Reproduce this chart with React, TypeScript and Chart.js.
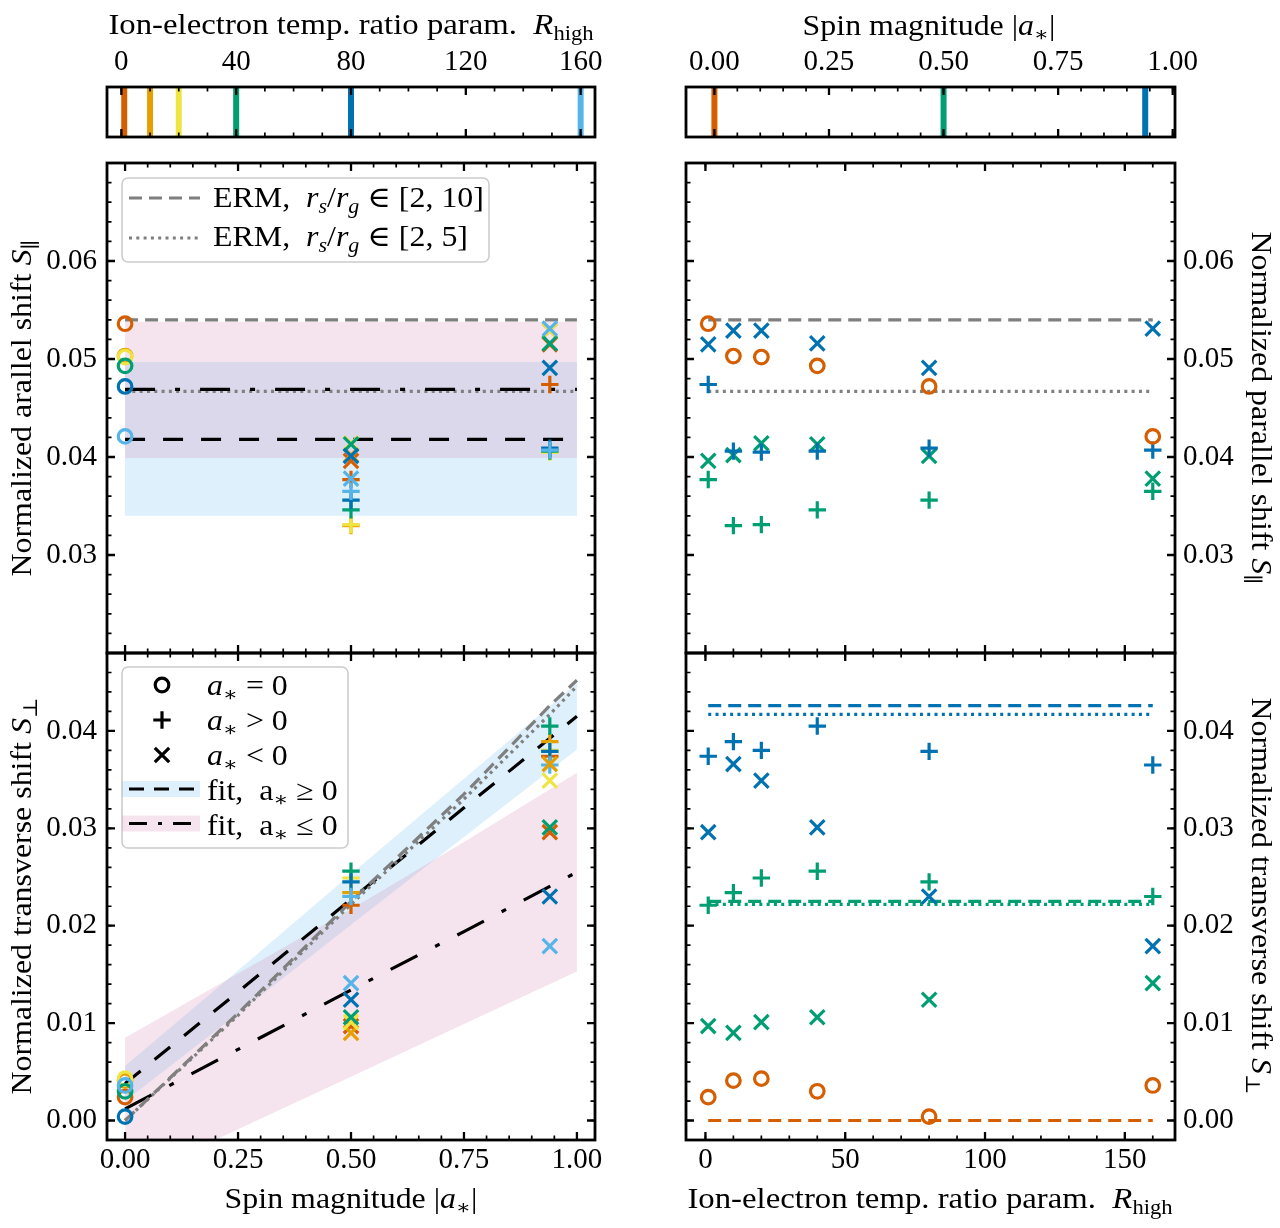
import React, { useEffect, useRef } from "react";
import { Chart, registerables } from "chart.js";
Chart.register(...registerables);

// ---------------- data ----------------
const RHIGH = [1, 10, 20, 40, 80, 160];
const RHIGH_COLORS = ["#D55E00", "#E69F00", "#F0E442", "#009E73", "#0072B2", "#56B4E9"];
const SPINS = [0, 0.5, 0.94];
const SPIN_COLORS = ["#D55E00", "#009E73", "#0072B2"];

// normalized parallel shift S_par, per R_high
const SPAR_A0 = [0.0536, 0.0503, 0.0502, 0.0493, 0.0472, 0.0421];
const SPAR_P05 = [0.0377, 0.033, 0.0331, 0.0346, 0.0356, 0.0365];
const SPAR_M05 = [0.0396, 0.0402, 0.0414, 0.0413, 0.0401, 0.0378];
const SPAR_P094 = [0.0474, 0.0406, 0.0405, 0.0406, 0.0409, 0.0407];
const SPAR_M094 = [0.0515, 0.0529, 0.0529, 0.0516, 0.0491, 0.0531];

// normalized transverse shift S_perp, per R_high
const SPERP_A0 = [0.0024, 0.0041, 0.0043, 0.003, 0.0004, 0.0036];
const SPERP_P05 = [0.0221, 0.0234, 0.0249, 0.0256, 0.0245, 0.023];
const SPERP_M05 = [0.0097, 0.009, 0.0101, 0.0106, 0.0124, 0.0141];
const SPERP_P094 = [0.0374, 0.0389, 0.038, 0.0405, 0.0379, 0.0365];
const SPERP_M094 = [0.0296, 0.0366, 0.0349, 0.0301, 0.023, 0.0179];

// ERM reference values
const ERM_SPAR_10 = 0.054;
const ERM_SPAR_5 = 0.0467;
const ERM_SPIN_GRID = [0, 0.25, 0.5, 0.75, 0.94, 1];
const ERM_SPERP_10 = [0, 0.011, 0.0225, 0.0335, 0.0426, 0.0452];
const ERM_SPERP_5 = [0, 0.0108, 0.0222, 0.033, 0.0417, 0.0446];
const ERM_SPERP_10_AT_SPINS = [0, 0.0225, 0.0426];
const ERM_SPERP_5_AT_SPINS = [0, 0.0222, 0.0417];

// fits vs spin
const FIT_SPAN = [0, 1];
const FITP_SPAR = [0.0418, 0.0418];
const FITP_SPAR_LO = [0.034, 0.034];
const FITP_SPAR_HI = [0.0497, 0.0497];
const FITN_SPAR = [0.0469, 0.0469];
const FITN_SPAR_LO = [0.0399, 0.0399];
const FITN_SPAR_HI = [0.0538, 0.0538];

const FIT_SPIN = [0, 0.25, 0.5, 0.75, 1];
const FITP_SPERP = [0.0038, 0.0132, 0.0227, 0.0321, 0.0415];
const FITP_SPERP_LO = [0.002, 0.011, 0.0201, 0.0291, 0.0381];
const FITP_SPERP_HI = [0.0056, 0.0154, 0.0253, 0.0351, 0.0449];
const FITN_SPERP = [0.0012, 0.0073, 0.0134, 0.0194, 0.0255];
const FITN_SPERP_LO = [-0.0063, -0.0009, 0.0045, 0.0099, 0.0153];
const FITN_SPERP_HI = [0.0085, 0.0151, 0.0217, 0.0286, 0.0357];

// ticks
const CB_R_TICKS = [0, 40, 80, 120, 160];
const CB_S_TICKS = [0, 0.25, 0.5, 0.75, 1.0];
const SPIN_TICKS = [0, 0.25, 0.5, 0.75, 1.0];
const RHIGH_TICKS = [0, 50, 100, 150];
const SPAR_TICKS = [0.03, 0.04, 0.05, 0.06];
const SPERP_TICKS = [0, 0.01, 0.02, 0.03, 0.04];

// ---------------- style / layout ----------------
const W = 1280;
const H = 1228;
const FONT = "'Liberation Serif', 'DejaVu Serif', serif";
const FS = 29;
const STRETCH = 1.1;
const GRAY = "#7f7f7f";
const BLUE_BAND = "rgba(86,180,233,0.2)";
const PINK_BAND = "rgba(204,121,167,0.2)";
const DASH_ERM = [13, 7];
const DOT = [3, 4.3];
const DASH_FIT = [20, 18];
const DASHDOT_FIT = [30, 20, 5, 20];
const Y_AXIS_W = 95;
const X_AXIS_H = 58;

type Box = { l: number; t: number; r: number; b: number };
const BOX: Record<string, Box> = {
  cbL: { l: 107, t: 87, r: 595, b: 137 },
  cbR: { l: 686, t: 87, r: 1175, b: 137 },
  tl: { l: 107, t: 163, r: 595, b: 653 },
  bl: { l: 107, t: 653, r: 595, b: 1140 },
  tr: { l: 686, t: 163, r: 1175, b: 653 },
  br: { l: 686, t: 653, r: 1175, b: 1140 },
};

function steps(a: number, b: number, step: number): number[] {
  const out: number[] = [];
  const n = Math.round((b - a) / step);
  for (let i = 0; i <= n; i++) out.push(+(a + i * step).toFixed(6));
  return out;
}

// ---------------- text helpers ----------------
type Seg = { t: string; it?: boolean; sub?: boolean };
function segFont(s: Seg, size: number) {
  return `${s.it ? "italic " : ""}${s.sub ? Math.round(size * 0.7) : size}px ${FONT}`;
}
function richWidth(ctx: CanvasRenderingContext2D, segs: Seg[], size: number) {
  let w = 0;
  for (const s of segs) {
    ctx.font = segFont(s, size);
    w += ctx.measureText(s.t).width;
  }
  return w;
}
function drawRich(
  ctx: CanvasRenderingContext2D,
  segs: Seg[],
  x: number,
  y: number,
  align: "left" | "center" = "left",
  rot = 0,
  stretch = STRETCH,
  size = FS
) {
  ctx.save();
  ctx.translate(x, y);
  if (rot) ctx.rotate(rot);
  ctx.scale(stretch, 1);
  ctx.fillStyle = "#000";
  ctx.textBaseline = "alphabetic";
  ctx.textAlign = "left";
  const w = richWidth(ctx, segs, size);
  let cx = align === "center" ? -w / 2 : 0;
  for (const s of segs) {
    ctx.font = segFont(s, size);
    ctx.fillText(s.t, cx, s.sub ? size * 0.22 : 0);
    cx += ctx.measureText(s.t).width;
  }
  ctx.restore();
}

const T_RHIGH: Seg[] = [{ t: "Ion-electron temp. ratio param.  " }, { t: "R", it: true }, { t: "high", sub: true }];
const T_SPIN: Seg[] = [{ t: "Spin magnitude |" }, { t: "a", it: true }, { t: "∗", sub: true }, { t: "|" }];
const T_SPAR_L: Seg[] = [{ t: "Normalized arallel shift " }, { t: "S", it: true }, { t: "∥", sub: true }];
const T_SPAR_R: Seg[] = [{ t: "Normalized parallel shift " }, { t: "S", it: true }, { t: "∥", sub: true }];
const T_SPERP: Seg[] = [{ t: "Normalized transverse shift " }, { t: "S", it: true }, { t: "⊥", sub: true }];
const L_ERM10: Seg[] = [
  { t: "ERM,  " }, { t: "r", it: true }, { t: "s", it: true, sub: true }, { t: "/" },
  { t: "r", it: true }, { t: "g", it: true, sub: true }, { t: " ∈ [2, 10]" },
];
const L_ERM5: Seg[] = [
  { t: "ERM,  " }, { t: "r", it: true }, { t: "s", it: true, sub: true }, { t: "/" },
  { t: "r", it: true }, { t: "g", it: true, sub: true }, { t: " ∈ [2, 5]" },
];
const L_A0: Seg[] = [{ t: "a", it: true }, { t: "∗", sub: true }, { t: " = 0" }];
const L_AP: Seg[] = [{ t: "a", it: true }, { t: "∗", sub: true }, { t: " > 0" }];
const L_AM: Seg[] = [{ t: "a", it: true }, { t: "∗", sub: true }, { t: " < 0" }];
const L_FITP: Seg[] = [{ t: "fit,  a" }, { t: "∗", sub: true }, { t: " ≥ 0" }];
const L_FITN: Seg[] = [{ t: "fit,  a" }, { t: "∗", sub: true }, { t: " ≤ 0" }];

function legendBox(ctx: CanvasRenderingContext2D, x: number, y: number, w: number, h: number) {
  ctx.save();
  ctx.beginPath();
  (ctx as any).roundRect(x, y, w, h, 6);
  ctx.fillStyle = "rgba(255,255,255,0.8)";
  ctx.fill();
  ctx.strokeStyle = "#cccccc";
  ctx.lineWidth = 1.6;
  ctx.stroke();
  ctx.restore();
}
function hLine(ctx: CanvasRenderingContext2D, x0: number, x1: number, y: number, color: string, dash: number[], lw = 3.2) {
  ctx.save();
  ctx.strokeStyle = color;
  ctx.lineWidth = lw;
  ctx.setLineDash(dash);
  ctx.beginPath();
  ctx.moveTo(x0, y);
  ctx.lineTo(x1, y);
  ctx.stroke();
  ctx.restore();
}
function marker(ctx: CanvasRenderingContext2D, kind: string, x: number, y: number) {
  ctx.save();
  ctx.strokeStyle = "#000";
  ctx.lineWidth = 3.2;
  ctx.beginPath();
  if (kind === "circle") {
    ctx.arc(x, y, 6.8, 0, Math.PI * 2);
  } else if (kind === "cross") {
    ctx.moveTo(x - 8.7, y); ctx.lineTo(x + 8.7, y);
    ctx.moveTo(x, y - 8.7); ctx.lineTo(x, y + 8.7);
  } else {
    ctx.moveTo(x - 7.2, y - 7.2); ctx.lineTo(x + 7.2, y + 7.2);
    ctx.moveTo(x - 7.2, y + 7.2); ctx.lineTo(x + 7.2, y - 7.2);
  }
  ctx.stroke();
  ctx.restore();
}

// ---------------- chart helpers ----------------
type Spec = {
  xMajor: number[];
  xMinor: number[];
  yMajor: number[];
  yMinor: number[];
  deco?: (ctx: CanvasRenderingContext2D) => void;
};

function framePlugin(spec: Spec) {
  return {
    id: "frameDeco",
    afterDraw(chart: any) {
      const ctx = chart.ctx as CanvasRenderingContext2D;
      const { left, right, top, bottom } = chart.chartArea;
      const xs = chart.scales.x;
      const ys = chart.scales.y;
      ctx.save();
      ctx.strokeStyle = "#000";
      ctx.setLineDash([]);
      const tx = (vals: number[], len: number, lw: number) => {
        ctx.lineWidth = lw;
        ctx.beginPath();
        for (const v of vals) {
          const p = xs.getPixelForValue(v);
          if (p < left + 1.5 || p > right - 1.5) continue;
          ctx.moveTo(p, bottom);
          ctx.lineTo(p, bottom - len);
          ctx.moveTo(p, top);
          ctx.lineTo(p, top + len);
        }
        ctx.stroke();
      };
      const ty = (vals: number[], len: number, lw: number) => {
        ctx.lineWidth = lw;
        ctx.beginPath();
        for (const v of vals) {
          const p = ys.getPixelForValue(v);
          if (p < top + 1.5 || p > bottom - 1.5) continue;
          ctx.moveTo(left, p);
          ctx.lineTo(left + len, p);
          ctx.moveTo(right, p);
          ctx.lineTo(right - len, p);
        }
        ctx.stroke();
      };
      tx(spec.xMinor, 4.5, 1.7);
      tx(spec.xMajor, 8, 2.3);
      ty(spec.yMinor, 4.5, 1.7);
      ty(spec.yMajor, 8, 2.3);
      ctx.lineWidth = 2.8;
      ctx.strokeRect(left, top, right - left, bottom - top);
      ctx.restore();
      if (spec.deco) spec.deco(ctx);
    },
  };
}

type Ax = { cfg: any; pos: string; size: number };
function axis(
  min: number,
  max: number,
  ticks: number[],
  position: string,
  labels: boolean,
  fmt: (v: number) => string,
  pad: number
): Ax {
  const horizontal = position === "top" || position === "bottom";
  const size = labels ? (horizontal ? X_AXIS_H : Y_AXIS_W) : 0;
  const cfg = {
    type: "linear",
    min,
    max,
    position,
    display: true,
    grid: { display: false, drawTicks: false },
    border: { display: false },
    title: { display: false },
    ticks: {
      display: labels,
      autoSkip: false,
      maxRotation: 0,
      minRotation: 0,
      padding: pad,
      color: "#000",
      font: { family: FONT, size: FS },
      callback: (v: number) => fmt(v),
    },
    afterBuildTicks: (s: any) => {
      s.ticks = ticks.map((value) => ({ value }));
    },
    afterFit: (s: any) => {
      if (horizontal) s.height = size;
      else s.width = size;
      s.paddingLeft = 0;
      s.paddingRight = 0;
      s.paddingTop = 0;
      s.paddingBottom = 0;
    },
  };
  return { cfg, pos: position, size };
}

const f2 = (v: number) => v.toFixed(2);
const f0 = (v: number) => String(Math.round(v));

function markers(xs: number[], ys: number[], colors: string[], style: string) {
  return {
    type: "scatter",
    data: xs.map((x, i) => ({ x, y: ys[i] })),
    showLine: false,
    pointStyle: style,
    pointRadius: style === "circle" ? 6.8 : style === "cross" ? 8.7 : 10.2,
    pointBorderWidth: 3.2,
    pointBorderColor: colors,
    pointBackgroundColor: "rgba(0,0,0,0)",
    borderColor: colors,
    backgroundColor: "rgba(0,0,0,0)",
  };
}
function line(xs: number[], ys: number[], color: string, width: number, dash: number[]) {
  return {
    type: "line",
    data: xs.map((x, i) => ({ x, y: ys[i] })),
    borderColor: color,
    borderWidth: width,
    borderDash: dash,
    borderCapStyle: "butt",
    pointRadius: 0,
    fill: false,
    tension: 0,
  };
}
function band(xs: number[], lo: number[], hi: number[], color: string) {
  return [
    {
      type: "line",
      data: xs.map((x, i) => ({ x, y: hi[i] })),
      borderWidth: 0,
      borderColor: "rgba(0,0,0,0)",
      pointRadius: 0,
      fill: "+1",
      backgroundColor: color,
      tension: 0,
    },
    {
      type: "line",
      data: xs.map((x, i) => ({ x, y: lo[i] })),
      borderWidth: 0,
      borderColor: "rgba(0,0,0,0)",
      pointRadius: 0,
      fill: false,
      tension: 0,
    },
  ];
}

function makeChart(canvas: HTMLCanvasElement, box: Box, x: Ax, y: Ax, datasets: any[], spec: Spec) {
  const padding = {
    left: box.l - (y.pos === "left" ? y.size : 0),
    right: W - box.r - (y.pos === "right" ? y.size : 0),
    top: box.t - (x.pos === "top" ? x.size : 0),
    bottom: H - box.b - (x.pos === "bottom" ? x.size : 0),
  };
  return new Chart(canvas, {
    type: "scatter",
    data: { datasets },
    options: {
      responsive: false,
      animation: false,
      events: [],
      layout: { autoPadding: false, padding },
      plugins: { legend: { display: false }, tooltip: { enabled: false }, title: { display: false } },
      scales: { x: x.cfg, y: y.cfg },
    } as any,
    plugins: [framePlugin(spec) as any],
  } as any);
}

const at = (v: number) => RHIGH.map(() => v);
const spinColor = (k: number) => RHIGH.map(() => SPIN_COLORS[k]);
const RH_SPAN = [RHIGH[0], RHIGH[RHIGH.length - 1]];

// ---------------- panel builders ----------------
function buildCbL(c: HTMLCanvasElement) {
  const ds = RHIGH.map((r, i) => line([r, r], [0, 1], RHIGH_COLORS[i], 6, []));
  return makeChart(
    c,
    BOX.cbL,
    axis(-5, 165, CB_R_TICKS, "top", true, f0, 7),
    axis(0, 1, [], "left", false, f2, 0),
    ds,
    {
      xMajor: CB_R_TICKS, xMinor: steps(0, 160, 10), yMajor: [], yMinor: [],
      deco: (ctx) => drawRich(ctx, T_RHIGH, 351, 34, "center", 0, 1.13),
    }
  );
}
function buildCbR(c: HTMLCanvasElement) {
  const ds = SPINS.map((s, i) => line([s, s], [0, 1], SPIN_COLORS[i], 6, []));
  return makeChart(
    c,
    BOX.cbR,
    axis(-0.062, 1.005, CB_S_TICKS, "top", true, f2, 7),
    axis(0, 1, [], "left", false, f2, 0),
    ds,
    {
      xMajor: CB_S_TICKS, xMinor: steps(0, 1, 0.05), yMajor: [], yMinor: [],
      deco: (ctx) => drawRich(ctx, T_SPIN, 929, 35, "center"),
    }
  );
}
function buildTL(c: HTMLCanvasElement) {
  const ds = [
    markers(at(SPINS[0]), SPAR_A0, RHIGH_COLORS, "circle"),
    markers(at(SPINS[2]), SPAR_M094, RHIGH_COLORS, "crossRot"),
    markers(at(SPINS[2]), SPAR_P094, RHIGH_COLORS, "cross"),
    markers(at(SPINS[1]), SPAR_M05, RHIGH_COLORS, "crossRot"),
    markers(at(SPINS[1]), SPAR_P05, RHIGH_COLORS, "cross"),
    line(FIT_SPAN, FITN_SPAR, "#000", 3.2, DASHDOT_FIT),
    line(FIT_SPAN, FITP_SPAR, "#000", 3.2, DASH_FIT),
    line(FIT_SPAN, [ERM_SPAR_10, ERM_SPAR_10], GRAY, 3.2, DASH_ERM),
    line(FIT_SPAN, [ERM_SPAR_5, ERM_SPAR_5], GRAY, 3.2, DOT),
    ...band(FIT_SPAN, FITN_SPAR_LO, FITN_SPAR_HI, PINK_BAND),
    ...band(FIT_SPAN, FITP_SPAR_LO, FITP_SPAR_HI, BLUE_BAND),
  ];
  return makeChart(
    c,
    BOX.tl,
    axis(-0.04, 1.04, SPIN_TICKS, "bottom", false, f2, 3),
    axis(0.02, 0.07, SPAR_TICKS, "left", true, f2, 10),
    ds,
    {
      xMajor: SPIN_TICKS, xMinor: steps(0, 1, 0.05), yMajor: SPAR_TICKS, yMinor: steps(0.02, 0.07, 0.002),
      deco: (ctx) => {
        drawRich(ctx, T_SPAR_L, 31, 408, "center", -Math.PI / 2);
        legendBox(ctx, 122, 178, 367, 84);
        hLine(ctx, 129, 200, 198, GRAY, DASH_ERM);
        hLine(ctx, 129, 200, 238, GRAY, DOT);
        drawRich(ctx, L_ERM10, 213, 207);
        drawRich(ctx, L_ERM5, 213, 246);
      },
    }
  );
}
function buildBL(c: HTMLCanvasElement) {
  const ds = [
    markers(at(SPINS[0]), SPERP_A0, RHIGH_COLORS, "circle"),
    markers(at(SPINS[2]), SPERP_M094, RHIGH_COLORS, "crossRot"),
    markers(at(SPINS[2]), SPERP_P094, RHIGH_COLORS, "cross"),
    markers(at(SPINS[1]), SPERP_M05, RHIGH_COLORS, "crossRot"),
    markers(at(SPINS[1]), SPERP_P05, RHIGH_COLORS, "cross"),
    line(ERM_SPIN_GRID, ERM_SPERP_10, GRAY, 3.2, DASH_ERM),
    line(ERM_SPIN_GRID, ERM_SPERP_5, GRAY, 3.2, DOT),
    line(FIT_SPIN, FITN_SPERP, "#000", 3.2, DASHDOT_FIT),
    line(FIT_SPIN, FITP_SPERP, "#000", 3.2, DASH_FIT),
    ...band(FIT_SPIN, FITN_SPERP_LO, FITN_SPERP_HI, PINK_BAND),
    ...band(FIT_SPIN, FITP_SPERP_LO, FITP_SPERP_HI, BLUE_BAND),
  ];
  return makeChart(
    c,
    BOX.bl,
    axis(-0.04, 1.04, SPIN_TICKS, "bottom", true, f2, 3),
    axis(-0.002, 0.048, SPERP_TICKS, "left", true, f2, 10),
    ds,
    {
      xMajor: SPIN_TICKS, xMinor: steps(0, 1, 0.05), yMajor: SPERP_TICKS, yMinor: steps(-0.002, 0.048, 0.002),
      deco: (ctx) => {
        drawRich(ctx, T_SPERP, 31, 896, "center", -Math.PI / 2);
        drawRich(ctx, T_SPIN, 351, 1208, "center");
        legendBox(ctx, 122, 667, 226, 181);
        marker(ctx, "circle", 162, 685);
        marker(ctx, "cross", 162, 720);
        marker(ctx, "crossRot", 162, 755);
        ctx.save();
        ctx.fillStyle = BLUE_BAND;
        ctx.fillRect(122, 781, 78, 16);
        ctx.fillStyle = PINK_BAND;
        ctx.fillRect(122, 815.5, 78, 16);
        ctx.restore();
        hLine(ctx, 129, 200, 789, "#000", [15, 10]);
        hLine(ctx, 129, 200, 823.5, "#000", [18, 11, 4, 11]);
        drawRich(ctx, L_A0, 207, 695);
        drawRich(ctx, L_AP, 207, 730);
        drawRich(ctx, L_AM, 207, 765);
        drawRich(ctx, L_FITP, 207, 800);
        drawRich(ctx, L_FITN, 207, 835);
      },
    }
  );
}
function buildTR(c: HTMLCanvasElement) {
  const ds = [
    markers(RHIGH, SPAR_A0, spinColor(0), "circle"),
    markers(RHIGH, SPAR_M094, spinColor(2), "crossRot"),
    markers(RHIGH, SPAR_P094, spinColor(2), "cross"),
    markers(RHIGH, SPAR_M05, spinColor(1), "crossRot"),
    markers(RHIGH, SPAR_P05, spinColor(1), "cross"),
    line(RH_SPAN, [ERM_SPAR_10, ERM_SPAR_10], GRAY, 3.2, DASH_ERM),
    line(RH_SPAN, [ERM_SPAR_5, ERM_SPAR_5], GRAY, 3.2, DOT),
  ];
  return makeChart(
    c,
    BOX.tr,
    axis(-6.95, 167.95, RHIGH_TICKS, "bottom", false, f0, 3),
    axis(0.02, 0.07, SPAR_TICKS, "right", true, f2, 8),
    ds,
    {
      xMajor: RHIGH_TICKS, xMinor: steps(0, 160, 10), yMajor: SPAR_TICKS, yMinor: steps(0.02, 0.07, 0.002),
      deco: (ctx) => drawRich(ctx, T_SPAR_R, 1252, 408, "center", Math.PI / 2),
    }
  );
}
function buildBR(c: HTMLCanvasElement) {
  const ds: any[] = [
    markers(RHIGH, SPERP_M094, spinColor(2), "crossRot"),
    markers(RHIGH, SPERP_P094, spinColor(2), "cross"),
    markers(RHIGH, SPERP_M05, spinColor(1), "crossRot"),
    markers(RHIGH, SPERP_P05, spinColor(1), "cross"),
    markers(RHIGH, SPERP_A0, spinColor(0), "circle"),
  ];
  SPINS.forEach((_, k) => {
    ds.push(line(RH_SPAN, [ERM_SPERP_10_AT_SPINS[k], ERM_SPERP_10_AT_SPINS[k]], SPIN_COLORS[k], 3.2, DASH_ERM));
    if (k > 0) ds.push(line(RH_SPAN, [ERM_SPERP_5_AT_SPINS[k], ERM_SPERP_5_AT_SPINS[k]], SPIN_COLORS[k], 3.2, DOT));
  });
  return makeChart(
    c,
    BOX.br,
    axis(-6.95, 167.95, RHIGH_TICKS, "bottom", true, f0, 3),
    axis(-0.002, 0.048, SPERP_TICKS, "right", true, f2, 8),
    ds,
    {
      xMajor: RHIGH_TICKS, xMinor: steps(0, 160, 10), yMajor: SPERP_TICKS, yMinor: steps(-0.002, 0.048, 0.002),
      deco: (ctx) => {
        drawRich(ctx, T_SPERP, 1252, 896, "center", Math.PI / 2);
        drawRich(ctx, T_RHIGH, 930, 1208, "center", 0, 1.13);
      },
    }
  );
}

function Panel({ build }: { build: (c: HTMLCanvasElement) => Chart }) {
  const ref = useRef<HTMLCanvasElement>(null);
  useEffect(() => {
    const ch = build(ref.current as HTMLCanvasElement);
    return () => ch.destroy();
  }, []);
  return (
    <canvas
      ref={ref}
      width={W}
      height={H}
      style={{ position: "absolute", left: 0, top: 0, width: W, height: H }}
    />
  );
}

export default function App() {
  return (
    <div style={{ position: "absolute", left: 0, top: 0, width: W, height: H, background: "#fff" }}>
      <Panel build={buildCbL} />
      <Panel build={buildCbR} />
      <Panel build={buildTL} />
      <Panel build={buildBL} />
      <Panel build={buildTR} />
      <Panel build={buildBR} />
    </div>
  );
}
